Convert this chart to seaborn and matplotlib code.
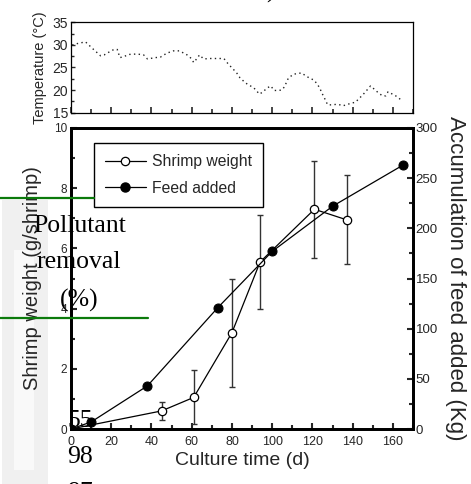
import matplotlib
matplotlib.use("Agg")
import matplotlib.pyplot as plt
import seaborn as sns
import numpy as np
import pandas as pd
from matplotlib.ticker import MultipleLocator
from matplotlib.lines import Line2D
from matplotlib.patches import Rectangle

# ---------------- data ----------------
temp_day = [0.6, 3, 7.2, 10.5, 14.7, 16.5, 18.8, 21.3, 23, 24.3, 26.2, 28.7, 32.8, 36.1, 38, 42,
            44.4, 47.7, 51, 53.9, 57.7, 59.8, 61, 62.6, 63.9, 65.9, 69, 72, 76, 78.3, 80.5, 82.5,
            84, 86.2, 88.2, 90.2, 92, 93.5, 95.3, 97.3, 99.3, 101, 103.1, 104.8, 106.1, 106.9,
            108, 110.5, 114.6, 116.8, 118.8, 120.8, 122.4, 123.7, 124.6, 125.7, 126.6, 127.6,
            129.5, 131.7, 133.7, 135.3, 137.3, 141.4, 143.2, 145.2, 148.9, 150.7, 152.7, 154.8,
            156.5, 157.6, 161.4, 163.8]
temp_c = [30.0, 30.3, 30.7, 29.3, 27.6, 27.8, 28.4, 29.0, 29.0, 27.2, 27.4, 27.9, 28.0, 27.8, 26.9, 27.2,
          27.3, 28.2, 28.7, 28.7, 27.8, 27.0, 26.1, 27.0, 27.8, 26.9, 27.0, 27.0, 27.0, 25.7, 24.7, 23.7,
          22.7, 21.8, 21.1, 20.7, 20.0, 19.1, 19.5, 20.4, 20.9, 19.9, 19.9, 20.0, 20.7, 21.5,
          22.6, 23.5, 23.8, 23.1, 22.6, 22.2, 21.3, 20.4, 19.4, 18.5, 17.6, 16.7,
          16.7, 16.8, 16.7, 16.5, 16.8, 17.3, 18.1, 19.0, 20.9, 20.2, 19.4, 18.7,
          18.7, 19.6, 18.7, 17.9]

shrimp_day = [0, 45, 61, 80, 94, 121, 137]
shrimp_wt = [0.0, 0.6, 1.05, 3.2, 5.55, 7.3, 6.95]
shrimp_err = [0.0, 0.3, 0.9, 1.8, 1.55, 1.62, 1.48]

feed_day = [0, 10, 38, 73, 100, 130, 165]
feed_kg = [0, 7, 43, 121, 177, 222, 263]

top_yticks = [15, 20, 25, 30, 35]
bottom_xticks = [0, 20, 40, 60, 80, 100, 120, 140, 160]
left_yticks = [0, 2, 4, 6, 8, 10]
right_yticks = [0, 50, 100, 150, 200, 250, 300]

# ---------------- style ----------------
sns.set_theme(style="ticks")
plt.rcParams["font.family"] = ["Liberation Sans", "DejaVu Sans"]

W, H = 471, 484
fig = plt.figure(figsize=(W / 100, H / 100), dpi=100)
fig.patch.set_facecolor("white")

def fx(px):
    return px / W

def fy(py):
    return (H - py) / H

# background scan artifacts (faint grey smudge on left)
fig.patches.append(Rectangle((fx(2), fy(484)), fx(46), (484 - 200) / H, transform=fig.transFigure,
                             facecolor="#f0f0f0", edgecolor="none", zorder=-2))
fig.patches.append(Rectangle((fx(14), fy(470)), fx(20), (470 - 250) / H, transform=fig.transFigure,
                             facecolor="#f9f9f9", edgecolor="none", zorder=-1))

# ---------------- top panel: temperature ----------------
ax_t = fig.add_axes([fx(71), fy(112.5), fx(413) - fx(71), (112.5 - 22.5) / H])
tdf = pd.DataFrame({"day": temp_day, "temp": temp_c})
sns.lineplot(data=tdf, x="day", y="temp", ax=ax_t, color="#222222", linewidth=1.0,
             linestyle=(0, (1, 2.4)), sort=False)
ax_t.set_xlim(0, 170)
ax_t.set_ylim(15, 35)
ax_t.set_yticks(top_yticks)
ax_t.yaxis.set_minor_locator(MultipleLocator(2.5))
ax_t.xaxis.set_major_locator(MultipleLocator(20))
ax_t.xaxis.set_minor_locator(MultipleLocator(10))
ax_t.tick_params(axis="x", which="both", labelbottom=False, direction="in", width=1.2)
ax_t.tick_params(axis="x", which="major", length=4)
ax_t.tick_params(axis="x", which="minor", length=3)
ax_t.tick_params(axis="y", which="both", direction="in", width=1.0, labelsize=10, pad=2)
ax_t.tick_params(axis="y", which="major", length=3)
ax_t.tick_params(axis="y", which="minor", length=2.5)
ax_t.set_xlabel("")
ax_t.set_ylabel("Temperature (\u00b0C)", fontsize=10.5, labelpad=4)
for s in ax_t.spines.values():
    s.set_visible(True)
    s.set_linewidth(0.9)
    s.set_color("black")

# ---------------- bottom panel ----------------
ax = fig.add_axes([fx(71), fy(429), fx(413) - fx(71), (429 - 128) / H])
ax2 = ax.twinx()

sdf = pd.DataFrame({"day": shrimp_day, "wt": shrimp_wt, "err": shrimp_err})
fdf = pd.DataFrame({"day": feed_day, "kg": feed_kg})

ax.errorbar(sdf["day"], sdf["wt"], yerr=sdf["err"], fmt="none", ecolor="#333333",
            elinewidth=1.0, capsize=2.2, capthick=1.0, zorder=2)
sns.lineplot(data=sdf, x="day", y="wt", ax=ax, color="black", linewidth=0.9,
             marker="o", markersize=6, markerfacecolor="white", markeredgecolor="black",
             markeredgewidth=0.9, label="Shrimp weight", legend=False, zorder=3)
sns.lineplot(data=fdf, x="day", y="kg", ax=ax2, color="black", linewidth=0.9,
             marker="o", markersize=6.5, markerfacecolor="black", markeredgecolor="black",
             label="Feed added", legend=False, zorder=3)

ax.set_xlim(0, 170)
ax.set_ylim(0, 10)
ax2.set_ylim(0, 300)
ax.set_xticks(bottom_xticks)
ax.xaxis.set_minor_locator(MultipleLocator(10))
ax.set_yticks(left_yticks)
ax.yaxis.set_minor_locator(MultipleLocator(1))
ax2.set_yticks(right_yticks)
ax2.yaxis.set_minor_locator(MultipleLocator(25))

ax.tick_params(axis="x", which="both", direction="in", width=1.5, labelsize=9, pad=5)
ax.tick_params(axis="x", which="major", length=4)
ax.tick_params(axis="x", which="minor", length=3)
ax.tick_params(axis="y", which="both", direction="in", width=1.5, labelsize=8.5, pad=3, right=False)
ax.tick_params(axis="y", which="major", length=4)
ax.tick_params(axis="y", which="minor", length=3)
ax2.tick_params(axis="y", which="both", direction="in", width=1.5, labelsize=9.5, pad=2)
ax2.tick_params(axis="y", which="major", length=4)
ax2.tick_params(axis="y", which="minor", length=3)

ax.set_xlabel("Culture time (d)", fontsize=14, labelpad=3)
ax.set_ylabel("Shrimp weight (g/shrimp)", fontsize=14.5, labelpad=8)
ax2.set_ylabel("Accumulation of feed added (Kg)", fontsize=16, rotation=270, labelpad=20)

for a in (ax, ax2):
    for s in a.spines.values():
        s.set_visible(True)
        s.set_linewidth(2.0)
        s.set_color("black")

handles = [Line2D([], [], color="black", linewidth=0.9, marker="o", markersize=6,
                  markerfacecolor="white", markeredgecolor="black", markeredgewidth=0.9),
           Line2D([], [], color="black", linewidth=0.9, marker="o", markersize=6.5,
                  markerfacecolor="black", markeredgecolor="black")]
leg = ax2.legend(handles, ["Shrimp weight", "Feed added"], loc="upper left",
                 bbox_to_anchor=(0.067, 0.95), borderaxespad=0, fontsize=11.3,
                 frameon=True, fancybox=False, handlelength=2.6, handletextpad=0.4,
                 labelspacing=0.75, borderpad=0.7)
leg.get_frame().set_edgecolor("black")
leg.get_frame().set_linewidth(1.0)
leg.get_frame().set_facecolor("white")
leg.get_frame().set_alpha(1)

# ---------------- overlay artifacts from the scanned page ----------------
green = "#0b7a0b"
fig.lines.append(Line2D([0, fx(94)], [fy(197.7), fy(197.7)], transform=fig.transFigure,
                        color=green, linewidth=1.6, zorder=5))
fig.lines.append(Line2D([0, fx(148)], [fy(318.3), fy(318.3)], transform=fig.transFigure,
                        color=green, linewidth=1.6, zorder=5))

serif = ["Liberation Serif", "DejaVu Serif"]
for txt, px, py in [("Pollutant", 80, 231.5), ("removal", 79, 268), ("(%)", 79, 306.5),
                    ("55", 80, 427), ("98", 80, 463), ("97", 80, 499), (")", 270, -2)]:
    fig.text(fx(px), fy(py), txt, family=serif, fontsize=18.5, ha="center",
             va="baseline", color="black", zorder=6)

fig.savefig("out.png", dpi=100, facecolor="white")
